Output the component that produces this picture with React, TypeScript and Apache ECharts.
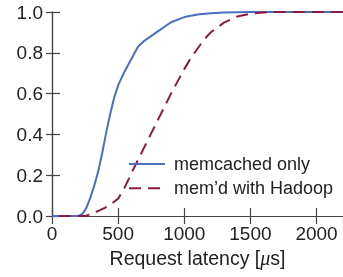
import React, { useEffect, useRef } from "react";
import * as echarts from "echarts";

const memcachedX = [0, 150, 200, 230, 260, 290, 320, 350, 380, 410, 440, 470, 500, 550, 600, 650, 700, 800, 900, 1000, 1100, 1200, 1300, 1500, 2200];
const memcachedY = [0, 0, 0, 0.01, 0.04, 0.09, 0.15, 0.22, 0.31, 0.41, 0.5, 0.58, 0.64, 0.71, 0.77, 0.83, 0.86, 0.905, 0.95, 0.975, 0.988, 0.994, 0.997, 1.0, 1.0];

const hadoopX = [50, 250, 300, 350, 400, 450, 500, 550, 600, 650, 700, 750, 800, 850, 900, 950, 1000, 1050, 1100, 1150, 1200, 1300, 1400, 1500, 1600, 1700, 2200];
const hadoopY = [0, 0, 0.01, 0.025, 0.04, 0.06, 0.085, 0.14, 0.21, 0.275, 0.34, 0.405, 0.47, 0.535, 0.6, 0.66, 0.72, 0.775, 0.82, 0.865, 0.9, 0.948, 0.978, 0.992, 0.998, 1.0, 1.0];

const seriesNames = ["memcached only", "mem\u2019d with Hadoop"];
const xTitle = "Request latency [{i|\u03bc}s]";

const FONT = "Liberation Sans";
const TEXT = "#222";
const AXIS = "#444";

export default function App() {
  const ref = useRef<HTMLDivElement>(null);
  useEffect(() => {
    if (!ref.current) return;
    const chart = echarts.init(ref.current, undefined, { renderer: "svg" });
    const axisLine = { show: true, lineStyle: { color: AXIS, width: 1.2 } };
    chart.setOption({
      animation: false,
      textStyle: { fontFamily: FONT, color: TEXT },
      grid: { left: 52, right: -3, top: 12, bottom: 61, containLabel: false },
      legend: {
        orient: "vertical",
        left: 128,
        top: 154,
        padding: 0,
        itemWidth: 36,
        itemHeight: 14,
        itemGap: 4.3,
        itemStyle: { opacity: 0 },
        lineStyle: { width: 2 },
        textStyle: { fontSize: 18, color: TEXT, fontFamily: FONT, lineHeight: 20, padding: [0, 0, 0, 4] },
        data: seriesNames,
      },
      xAxis: [
        {
          type: "value",
          position: "bottom",
          min: 0,
          max: 2200,
          interval: 500,
          axisLine,
          splitLine: { show: false },
          axisTick: { show: true, inside: true, length: 8, lineStyle: { color: AXIS, width: 1.2 } },
          axisLabel: { fontSize: 19, color: TEXT, fontFamily: FONT, margin: 8, showMaxLabel: false, formatter: (v: number) => String(v) },
          name: xTitle,
          nameLocation: "middle",
          nameGap: 32,
          nameTextStyle: {
            fontSize: 19.5,
            color: TEXT,
            fontFamily: FONT,
            rich: { i: { fontStyle: "italic", fontFamily: "Liberation Serif", fontSize: 20, color: TEXT } },
          },
        },
        {
          type: "value",
          position: "top",
          min: 0,
          max: 2200,
          interval: 500,
          axisLine,
          splitLine: { show: false },
          axisTick: { show: true, inside: true, length: 8, lineStyle: { color: AXIS, width: 1.2 } },
          axisLabel: { show: false },
        },
      ],
      yAxis: [
        {
          type: "value",
          position: "left",
          min: 0,
          max: 1,
          interval: 0.2,
          axisLine,
          splitLine: { show: false },
          axisTick: { show: true, inside: true, length: 8, lineStyle: { color: AXIS, width: 1.2 } },
          axisLabel: { fontSize: 19, color: TEXT, fontFamily: FONT, margin: 9, formatter: (v: number) => v.toFixed(1) },
        },
        {
          type: "value",
          position: "right",
          min: 0,
          max: 1,
          interval: 0.2,
          axisLine,
          splitLine: { show: false },
          axisTick: { show: true, inside: true, length: 6, lineStyle: { color: AXIS, width: 1.2 } },
          axisLabel: { show: false },
        },
      ],
      series: [
        {
          name: seriesNames[0],
          type: "line",
          xAxisIndex: 0,
          yAxisIndex: 0,
          data: memcachedX.map((x, i) => [x, memcachedY[i]]),
          showSymbol: false,
          symbol: "none",
          smooth: false,
          lineStyle: { color: "#4A6FC0", width: 2 },
          itemStyle: { color: "#4A6FC0" },
        },
        {
          name: seriesNames[1],
          type: "line",
          xAxisIndex: 0,
          yAxisIndex: 0,
          data: hadoopX.map((x, i) => [x, hadoopY[i]]),
          showSymbol: false,
          symbol: "none",
          smooth: false,
          lineStyle: { color: "#8B1A42", width: 2, type: [12, 7] },
          itemStyle: { color: "#8B1A42" },
        },
      ],
    });
    return () => chart.dispose();
  }, []);
  return <div ref={ref} style={{ position: "fixed", left: 0, top: 0, width: 343, height: 277 }} />;
}
